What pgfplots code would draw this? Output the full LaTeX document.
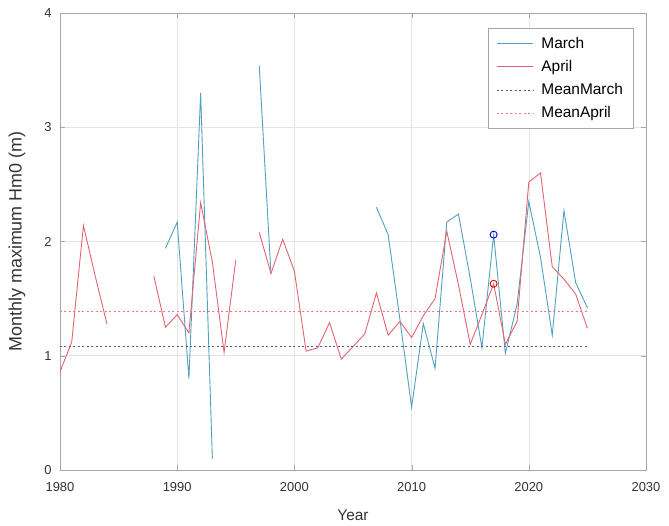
\documentclass[border=0pt]{standalone}
\usepackage{pgfplots}
\pgfplotsset{compat=1.18}
\usepackage{fontspec}
\setmainfont{Liberation Sans}
\definecolor{marchc}{RGB}{80,160,190}
\definecolor{aprilc}{RGB}{225,100,112}
\definecolor{meanmc}{RGB}{70,90,170}
\definecolor{meanac}{RGB}{230,120,135}
\begin{document}
\begin{tikzpicture}
\begin{axis}[
  name=ax,
  scale only axis,
  width=586bp, height=457bp,
  xmin=1980, xmax=2030, ymin=0, ymax=4,
  xtick={1980,1990,...,2030}, ytick={0,1,2,3,4},
  xticklabel style={/pgf/number format/1000 sep={}, yshift=-9bp},
  yticklabel style={xshift=-5bp},
  /pgf/number format/assume math mode=true,
  tick label style={font=\fontsize{13}{15}\selectfont, text=black!80},
  xlabel={Year}, ylabel={Monthly maximum Hm0 (m)},
  xlabel style={font=\fontsize{15.5}{17}\selectfont, text=black!80, yshift=-11bp},
  ylabel style={font=\fontsize{18}{20}\selectfont, text=black!80, yshift=12bp},
  tick align=inside, tick pos=both, major tick length=5bp,
  axis line style={gray!70, line width=0.8pt},
  tick style={gray!70},
  grid=major, major grid style={gray!20, line width=0.6pt},
  unbounded coords=jump,
  legend style={at={(0.978,0.967)}, anchor=north east, draw=gray!70,
    font=\fontsize{15.5}{17}\selectfont, row sep=6.5bp, inner xsep=8bp, inner ysep=7bp,
    /tikz/every odd column/.append style={column sep=6bp}},
  legend cell align=left,
  legend image code/.code={\draw[#1] (0bp,0bp) -- (36bp,0bp);},
]
\addplot[marchc, line width=0.9pt] table {
1989 1.94
1990 2.17
1991 0.80
1992 3.30
1993 0.10
1994 nan
1997 3.54
1998 1.72
1999 nan
2007 2.30
2008 2.06
2009 1.32
2010 0.55
2011 1.28
2012 0.89
2013 2.17
2014 2.24
2015 1.68
2016 1.07
2017 2.06
2018 1.02
2019 1.45
2020 2.35
2021 1.86
2022 1.18
2023 2.27
2024 1.64
2025 1.42
};
\addlegendentry{March}
\addplot[aprilc, line width=0.9pt] table {
1980 0.86
1981 1.12
1982 2.14
1983 1.70
1984 1.28
1985 nan
1988 1.70
1989 1.25
1990 1.36
1991 1.20
1992 2.34
1993 1.82
1994 1.03
1995 1.84
1996 nan
1997 2.08
1998 1.72
1999 2.02
2000 1.74
2001 1.04
2002 1.07
2003 1.29
2004 0.97
2005 1.08
2006 1.19
2007 1.55
2008 1.18
2009 1.30
2010 1.16
2011 1.35
2012 1.50
2013 2.09
2014 1.62
2015 1.10
2016 1.36
2017 1.63
2018 1.10
2019 1.30
2020 2.52
2021 2.60
2022 1.78
2023 1.67
2024 1.54
2025 1.24
};
\addlegendentry{April}
\addplot[meanmc, line width=0.9pt, dash pattern=on 2pt off 2.5pt] table {
1980 1.08
2025 1.08
};
\addlegendentry{MeanMarch}
\addplot[meanac, line width=0.9pt, dash pattern=on 2pt off 2.5pt] table {
1980 1.39
2025 1.39
};
\addlegendentry{MeanApril}
\addplot[only marks, mark=o, mark size=3.5pt, draw=blue!80!black, line width=0.9pt, forget plot] table {
2017 2.06
};
\addplot[only marks, mark=o, mark size=3.5pt, draw=red!85!black, line width=0.9pt, forget plot] table {
2017 1.63
};
\end{axis}
\pgfresetboundingbox
\path[use as bounding box] ([xshift=-60bp,yshift=-56bp]ax.south west) rectangle ([xshift=23bp,yshift=13bp]ax.north east);
\end{tikzpicture}
\end{document}
